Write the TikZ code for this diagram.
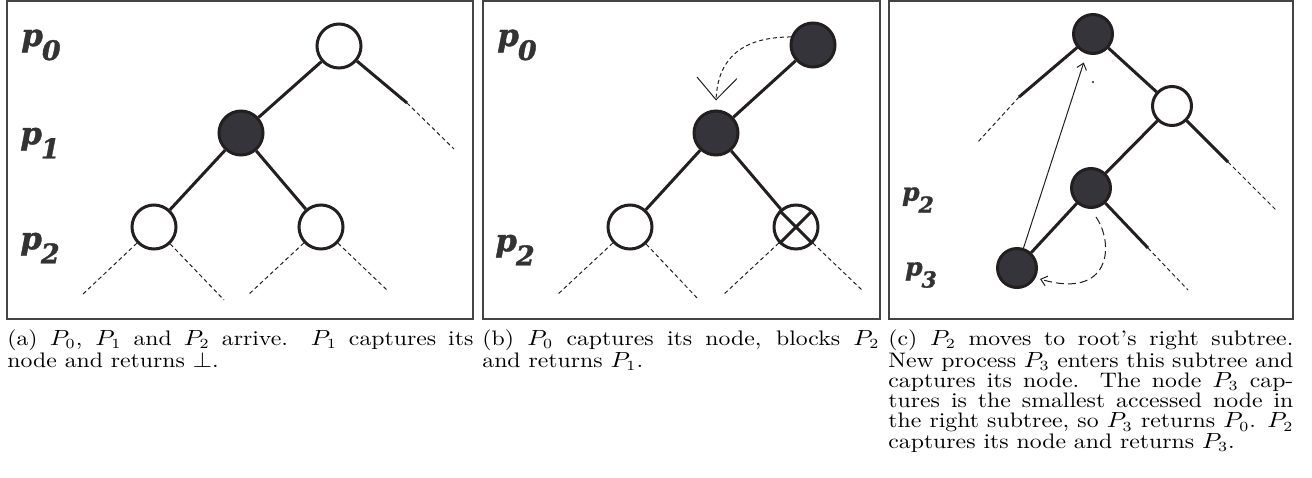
\documentclass[tikz,border=0pt]{standalone}
\usepackage{fontspec}
\usepackage{graphicx}
\usetikzlibrary{arrows.meta,calc}
\newfontfamily\lblfont{DejaVu Serif}[BoldItalicFeatures={FakeBold=1.2}]
\definecolor{ink}{HTML}{231F20}
\definecolor{nodefill}{HTML}{35343A}
\definecolor{lblcol}{HTML}{333333}
\definecolor{framecol}{HTML}{444444}
\newcommand{\plA}[1]{{\fontsize{15.5}{15.5}\selectfont p\kern-0.5pt\raisebox{-7pt}{\fontsize{13.5}{13.5}\selectfont #1}}}
\newcommand{\plC}[1]{{\fontsize{12.5}{12.5}\selectfont p\kern-0.5pt\raisebox{-6pt}{\fontsize{11}{11}\selectfont #1}}}
\newcommand{\captext}[2]{\scalebox{1.13}[1]{\parbox[t]{#1}{\fontsize{10.5}{10.1}\selectfont #2}}}
\tikzset{
  wnode/.style={circle, draw=ink, line width=1.5pt, fill=white, minimum size=22pt, inner sep=0pt},
  bnode/.style={wnode, fill=nodefill},
  wsmall/.style={wnode, minimum size=19.5pt},
  bsmall/.style={bnode, minimum size=19.5pt},
  edge/.style={draw=ink, line width=1.5pt},
  stub/.style={draw=ink, line width=0.5pt, dash pattern=on 2pt off 1.5pt},
  panel/.style={draw=framecol, line width=0.9pt},
  plbl/.style={text=lblcol, inner sep=0pt, font=\lblfont\bfseries\itshape},
  captionbox/.style={anchor=base west, inner sep=0pt},
  thinarrow/.style={draw=ink, line width=0.5pt, -{Straight Barb[length=3pt,width=5pt]}},
  bigv/.style={draw=ink, line width=0.5pt, dash pattern=on 2pt off 1.5pt, -{Straight Barb[length=11pt,width=20pt]}},
  longdash/.style={draw=ink, line width=0.5pt, dash pattern=on 4pt off 2pt, -{Straight Barb[length=3pt,width=5pt]}}
}
\begin{document}
\begin{tikzpicture}[x=0.5pt,y=-0.5pt]
\useasboundingbox (0,0) rectangle (1312,477);
% frames
\draw[panel] (7,1) rectangle (473,319);
\draw[panel] (483,1) rectangle (880,319);
\draw[panel] (889,1) rectangle (1293,319);

% ---------- panel (a)
\node[plbl] (la0) at (41,45) {\plA{0}};
\node[plbl] (la1) at (40,143) {\plA{1}};
\node[plbl] (la2) at (40,248) {\plA{2}};
\node[wnode] (a0) at (339,46) {};
\node[bnode] (a1) at (241,133) {};
\node[wnode] (a2) at (154,227) {};
\node[wnode] (a3) at (321,227) {};
\coordinate (a0r) at (407,103);
\coordinate (a0rd) at (454,149);
\coordinate (a2l) at (82,295);
\coordinate (a2r) at (224,300);
\coordinate (a3l) at (248,295);
\coordinate (a3r) at (387,290);
\draw[edge] (a0) -- (a1);
\draw[edge] (a1) -- (a2);
\draw[edge] (a1) -- (a3);
\draw[edge] (a0) -- (a0r);
\draw[stub] (a0r) -- (a0rd);
\draw[stub] (a2) -- (a2l);
\draw[stub] (a2) -- (a2r);
\draw[stub] (a3) -- (a3l);
\draw[stub] (a3) -- (a3r);

% ---------- panel (b)
\node[plbl] (lb0) at (517,45) {\plA{0}};
\node[plbl] (lb2) at (515,250) {\plA{2}};
\node[bnode] (b0) at (813,45) {};
\node[bnode] (b1) at (716,133) {};
\node[wnode] (b2) at (630,227) {};
\node[wnode] (b3) at (796,227) {};
\draw[edge] (b3.45) -- (b3.225);
\draw[edge] (b3.135) -- (b3.-45);
\coordinate (b2l) at (557,295);
\coordinate (b2r) at (699,300);
\coordinate (b3l) at (723,295);
\coordinate (b3r) at (862,290);
\draw[edge] (b0) -- (b1);
\draw[edge] (b1) -- (b2);
\draw[edge] (b1) -- (b3);
\draw[stub] (b2) -- (b2l);
\draw[stub] (b2) -- (b2r);
\draw[stub] (b3) -- (b3l);
\draw[stub] (b3) -- (b3r);
\draw[bigv] (b0.160) .. controls (750,37) and (718,52) .. ([yshift=4.5pt]b1.north);

% ---------- panel (c)
\node[plbl] (lc2) at (918,200) {\plC{2}};
\node[plbl] (lc3) at (921,275) {\plC{3}};
\node[bsmall] (c0) at (1093,34) {};
\node[wsmall] (c1) at (1172,106) {};
\node[bsmall] (c2) at (1091,188) {};
\node[bsmall] (c3) at (1017,268) {};
\coordinate (c0l) at (1019,97);
\coordinate (c0ld) at (977,143);
\coordinate (c1r) at (1228,162);
\coordinate (c1rd) at (1277,211);
\coordinate (c2r) at (1148,248);
\coordinate (c2rd) at (1188,290);
\draw[edge] (c0) -- (c1);
\draw[edge] (c1) -- (c2);
\draw[edge] (c2) -- (c3);
\draw[edge] (c0) -- (c0l);
\draw[stub] (c0l) -- (c0ld);
\draw[edge] (c1) -- (c1r);
\draw[stub] (c1r) -- (c1rd);
\draw[edge] (c2) -- (c2r);
\draw[stub] (c2r) -- (c2rd);
\draw[thinarrow, shorten >=4.5pt] (c3) -- (c0);
\node[circle, fill=ink, inner sep=0pt, minimum size=1.2pt] (cdot) at (1093,82) {};
\coordinate (c2s) at (1096,217);
\coordinate (c3e) at (1040,279);
\draw[longdash] (c2s) .. controls (1115,245) and (1110,300) .. (c3e);

% ---------- captions
\node[captionbox] (capa) at (7,345) {\captext{206.2pt}{(a) $P_0$, $P_1$ and $P_2$ arrive.  $P_1$ captures its\linebreak node and returns $\bot$.}};
\node[captionbox] (capb) at (482,345) {\captext{175.7pt}{(b) $P_0$ captures its node, blocks $P_2$\linebreak and returns $P_1$.}};
\node[captionbox] (capc) at (888,345) {\captext{179.2pt}{(c) $P_2$ moves to root's right subtree.\linebreak New process $P_3$ enters this subtree and\linebreak captures its node. The node $P_3$ cap-\linebreak tures is the smallest accessed node in\linebreak the right subtree, so $P_3$ returns $P_0$. $P_2$\linebreak captures its node and returns $P_3$.}};
\end{tikzpicture}
\end{document}
